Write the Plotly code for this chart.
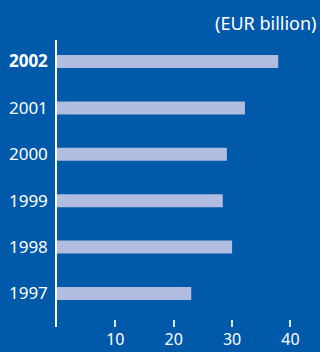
import plotly.graph_objects as go

years = ["1997", "1998", "1999", "2000", "2001", "2002"]
values = [23, 30, 28.4, 29.1, 32.2, 37.9]
year_labels = ["1997", "1998", "1999", "2000", "2001", "<b>2002</b>"]
x_ticks = [10, 20, 30, 40]
unit_label = "(EUR billion)"

BG = "#0059A9"
BAR = "#B0BCE0"

fig = go.Figure(
    go.Bar(
        x=values,
        y=list(range(len(years))),
        orientation="h",
        marker=dict(color=BAR, line=dict(width=0)),
        width=0.28,
        hoverinfo="skip",
    )
)

fig.update_layout(
    width=320,
    height=352,
    paper_bgcolor=BG,
    plot_bgcolor=BG,
    margin=dict(l=57, r=5, t=40, b=25, autoexpand=False),
    showlegend=False,
    font=dict(family="Noto Sans", color="white"),
    xaxis=dict(
        range=[0, 44.2],
        tickvals=x_ticks,
        ticks="inside",
        ticklen=7,
        tickwidth=1.5,
        tickcolor="#DDE4F4",
        showgrid=False,
        zeroline=False,
        showline=False,
        automargin=False,
        ticklabelstandoff=1,
        tickfont=dict(size=16, color="white"),
        fixedrange=True,
    ),
    yaxis=dict(
        range=[-0.722, 5.463],
        tickvals=list(range(len(years))),
        ticktext=year_labels,
        showgrid=False,
        zeroline=False,
        showline=True,
        linecolor="white",
        linewidth=1.5,
        ticks="",
        automargin=False,
        ticklabelstandoff=4,
        tickfont=dict(size=17, color="white"),
        fixedrange=True,
    ),
    annotations=[
        dict(
            text=unit_label,
            xref="paper",
            yref="paper",
            x=1.0,
            y=1.0,
            xanchor="right",
            yanchor="bottom",
            xshift=4,
            yshift=3,
            showarrow=False,
            font=dict(size=18, color="white", family="Noto Sans"),
        )
    ],
)

fig.write_html("out.html", config={"displayModeBar": False})
